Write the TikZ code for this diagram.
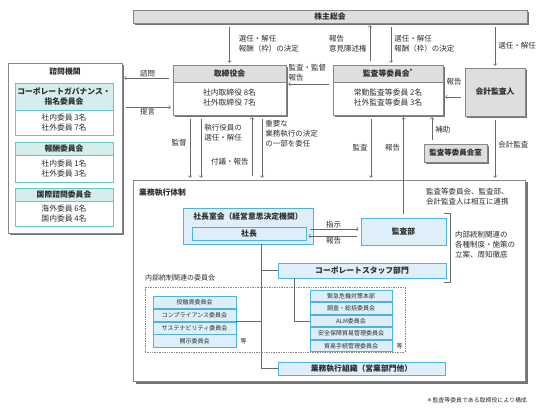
\documentclass[tikz,border=0pt]{standalone}
\usepackage{fontspec}
\setmainfont{Noto Sans CJK JP}
\usetikzlibrary{positioning,shadows}

\definecolor{ink}{RGB}{45,45,45}
\definecolor{edge}{RGB}{135,135,135}
\definecolor{shadowgray}{RGB}{115,115,115}
\definecolor{hdgray}{RGB}{222,222,222}
\definecolor{bluefill}{RGB}{223,239,250}
\definecolor{blueedge}{RGB}{75,180,230}
\definecolor{tealfill}{RGB}{214,237,238}
\definecolor{tealedge}{RGB}{95,200,200}
\definecolor{arrowgray}{RGB}{105,105,105}

\newcommand\fsz[1]{\fontsize{#1}{10}\selectfont}

\begin{document}
\begin{tikzpicture}[x=1pt, y=-1pt,
  every node/.style={text=ink, font=\fsz{7.8}, inner sep=1pt, align=center},
  box/.style={draw=edge, fill=white, line width=0.6pt, inner sep=0pt},
  hd/.style={box, fill=hdgray, font=\fsz{7.8}\bfseries},
  drop/.style={drop shadow={shadow xshift=#1, shadow yshift=-#1, fill=shadowgray, opacity=1}},
  drop/.default=1.6pt,
  tealbox/.style={box, draw=tealedge, line width=0.8pt},
  tealhd/.style={tealbox, fill=tealfill, font=\fsz{7.8}\bfseries},
  bluebox/.style={box, draw=blueedge, fill=bluefill, line width=0.8pt, font=\fsz{7.8}\bfseries},
  row/.style={draw=blueedge, fill=bluefill, line width=0.7pt, inner sep=0pt, font=\fsz{6}},
  arr/.style={->, draw=arrowgray, line width=0.6pt, shorten <=4pt, shorten >=2pt},
  wire/.style={draw=arrowgray, line width=0.6pt},
  lbl/.style={align=left, font=\fsz{7.5}}]
  \useasboundingbox (0,0) rectangle (545,411);

  % top level
  \node[box, drop, fill=hdgray, minimum width=394, minimum height=13, font=\fsz{7.8}\bfseries] (soukai) at (330,16.5) {株主総会};

  \node[box, drop, minimum width=113, minimum height=50] (torishimari) at (229.5,90) {};
  \node[hd, minimum width=113, minimum height=17, anchor=north] (torishimarihd) at (torishimari.north) {取締役会};
  \node (torishimaribody) at (229.5,98) {社内取締役 8名\\社外取締役 7名};

  \node[box, drop, minimum width=110, minimum height=50] (kansa) at (388,90) {};
  \node[hd, minimum width=110, minimum height=17, anchor=north] (kansahd) at (kansa.north) {監査等委員会\textsuperscript{*}};
  \node (kansabody) at (388,98) {常勤監査等委員 2名\\社外監査等委員 3名};

  \node[box, drop, fill=hdgray, minimum width=60, minimum height=48, font=\fsz{7.8}\bfseries] (kaikei) at (495,92) {会計監査人};

  % advisory bodies
  \node[box, drop, minimum width=114, minimum height=170] (shimon) at (65,148) {};
  \node[font=\fsz{7.8}\bfseries] (shimontitle) at (65,72) {諮問機関};

  \node[tealbox, minimum width=98, minimum height=52] (cg) at (64,109) {};
  \node[tealhd, minimum width=98, minimum height=27, anchor=north] (cghd) at (cg.north) {コーポレートガバナンス・\\指名委員会};
  \node (cgbody) at (64,122.5) {社内委員 3名\\社外委員 7名};

  \node[tealbox, minimum width=98, minimum height=40] (hoshu) at (64,162) {};
  \node[tealhd, minimum width=98, minimum height=13, anchor=north] (hoshuhd) at (hoshu.north) {報酬委員会};
  \node (hoshubody) at (64,168.5) {社内委員 1名\\社外委員 3名};

  \node[tealbox, minimum width=98, minimum height=38] (kokusai) at (64,207) {};
  \node[tealhd, minimum width=98, minimum height=13, anchor=north] (kokusaihd) at (kokusai.north) {国際諮問委員会};
  \node (kokusaibody) at (64,213.5) {海外委員 6名\\国内委員 4名};

  % execution
  \node[box, drop=2.5pt, minimum width=392, minimum height=201] (gyomu) at (329,280.5) {};
  \node[anchor=west, font=\fsz{7.8}\bfseries] (gyomutitle) at (138,193) {業務執行体制};
  \node[lbl, anchor=west] (renkei) at (425,197) {監査等委員会、監査部、\\会計監査人は相互に連携};

  \node[box, drop, fill=hdgray, minimum width=63, minimum height=18, font=\fsz{7.5}\bfseries] (kansashitsu) at (455.5,153) {監査等委員会室};

  \node[bluebox, minimum width=130, minimum height=36] (shachoshitsu) at (248,226) {};
  \node[font=\fsz{7.8}\bfseries] (shachoshitsutitle) at (248,217) {社長室会（経営意思決定機関）};
  \node[bluebox, minimum width=114, minimum height=13] (shacho) at (249,233.5) {社長};

  \node[bluebox, minimum width=85, minimum height=27] (kansabu) at (403.5,231.5) {監査部};
  \node[bluebox, minimum width=168, minimum height=15] (staff) at (362,270.5) {コーポレートスタッフ部門};
  \node[bluebox, minimum width=167, minimum height=13] (gyomuso) at (361.5,368.5) {業務執行組織（営業部門他）};

  \node[draw=edge, densely dotted, line width=0.7pt, minimum width=260, minimum height=65, inner sep=0pt] (naibu) at (275,319.5) {};
  \node[anchor=west, font=\fsz{7}] (naibutitle) at (144,278) {内部統制関連の委員会};

  \node[row, minimum width=83, minimum height=12.25] (ltoyushi) at (194.5,302.1) {投融資委員会};
  \node[row, minimum width=83, minimum height=12.25, below=0pt of ltoyushi] (lcomp) {コンプライアンス委員会};
  \node[row, minimum width=83, minimum height=12.25, below=0pt of lcomp] (lsus) {サステナビリティ委員会};
  \node[row, minimum width=83, minimum height=12.25, below=0pt of lsus] (lkaiji) {開示委員会};
  \node[right=3pt of lkaiji.east, font=\fsz{6}] (lto) {等};

  \node[row, minimum width=82, minimum height=11.8] (rkinkyu) at (351,295.9) {緊急危機対策本部};
  \node[row, minimum width=82, minimum height=11.8, below=0pt of rkinkyu] (rchosa) {調査・総括委員会};
  \node[row, minimum width=82, minimum height=11.8, below=0pt of rchosa] (ralm) {ALM委員会};
  \node[row, minimum width=82, minimum height=11.8, below=0pt of ralm] (ranpo) {安全保障貿易管理委員会};
  \node[row, minimum width=82, minimum height=11.8, below=0pt of ranpo] (rtetsu) {貿易手続管理委員会};
  \node[right=3pt of rtetsu.east, font=\fsz{6}] (rto) {等};

  % tree lines
  \coordinate (trunk) at (261,0);
  \coordinate (staffdrop) at (294,0);
  \draw[wire] (shachoshitsu.south -| trunk) |- (gyomuso.west);
  \draw[wire] (trunk |- staff.west) -- (staff.west);
  \draw[wire] (staff.south -| staffdrop) |- (ralm.west);
  \draw[wire] (lcomp.south east) -- (lcomp.south east -| trunk);

  \draw[wire] (444,213) -- (450,213) -- (450,282) -- (444,282);
  \node[lbl, anchor=west] (naibulbl) at (454,245) {内部統制関連の\\各種制度・施策の\\立案、周知徹底};

  % arrows
  \draw[arr] (soukai.south -| torishimari.north) -- (torishimari.north) node[lbl, midway, right=8pt] {選任・解任\\報酬（枠）の決定};
  \draw[arr] ([xshift=-18pt]kansa.north) -- ([xshift=-18pt]kansa.north |- soukai.south) node[lbl, midway, left=2pt] {報告\\意見陳述権};
  \draw[arr] ([xshift=3pt]kansa.north |- soukai.south) -- ([xshift=3pt]kansa.north) node[lbl, midway, right=2pt] {選任・解任\\報酬（枠）の決定};
  \draw[arr] (soukai.south -| kaikei.north) -- (kaikei.north) node[lbl, midway, right=2pt] {選任・解任};

  \draw[arr] ([yshift=6pt]kansa.west) -- ([yshift=6pt]kansa.west -| torishimari.east) node[lbl, pos=1, above right=2pt and 1pt] {監査・監督\\報告};
  \draw[arr] ([yshift=-5pt]kaikei.west) -- ([yshift=-5pt]kaikei.west -| kansa.east) node[lbl, midway, above=11pt] {報告};
  \draw[arr] ([yshift=12pt]torishimari.west) -- ([yshift=12pt]torishimari.west -| shimon.east) node[lbl, midway, above] {諮問};
  \draw[arr] ([yshift=-17pt]torishimari.west -| shimon.east) -- ([yshift=-17pt]torishimari.west) node[lbl, midway, below] {提言};

  \draw[arr] ([xshift=-39.5pt]torishimari.south) -- ([xshift=-39.5pt]torishimari.south |- gyomu.north) node[lbl, pos=0.42, left=2pt] {監督};
  \draw[arr] ([xshift=-28.5pt]torishimari.south) -- ([xshift=-28.5pt]torishimari.south |- gyomu.north) node[lbl, pos=0.27, right=2pt] {執行役員の\\選任・解任};
  \draw[arr] ([xshift=22.5pt]torishimari.south |- gyomu.north) -- ([xshift=22.5pt]torishimari.south) node[lbl, pos=0.28, left=2pt] {付議・報告};
  \draw[arr] ([xshift=32.5pt]torishimari.south) -- ([xshift=32.5pt]torishimari.south |- gyomu.north) node[lbl, pos=0.29, right=2pt] {重要な\\業務執行の決定\\の一部を委任};

  \draw[arr] ([xshift=-17pt]kansa.south) -- ([xshift=-17pt]kansa.south |- gyomu.north) node[lbl, pos=0.5, left=2pt] {監査};
  \draw[arr] (kansabu.north) -- (kansabu.north |- kansa.south) node[lbl, pos=0.68, left=2pt] {報告};
  \draw[arr] ([xshift=-23.5pt]kansashitsu.north) -- ([xshift=-23.5pt]kansashitsu.north |- kansa.south) node[lbl, midway, right=2pt] {補助};
  \draw[arr] (kaikei.south) -- (kaikei.south |- gyomu.north) node[lbl, pos=0.45, right=2pt] {会計監査};

  \draw[arr] ([yshift=4.5pt]shacho.east) -- ([yshift=4.5pt]shacho.east -| kansabu.west) node[lbl, midway, above] {指示};
  \draw[arr] ([yshift=-2.5pt]shacho.east -| kansabu.west) -- ([yshift=-2.5pt]shacho.east) node[lbl, midway, below] {報告};

  \node[anchor=east, font=\fsz{5.9}] (note) at (528,400) {＊監査等委員である取締役により構成};
\end{tikzpicture}
\end{document}
